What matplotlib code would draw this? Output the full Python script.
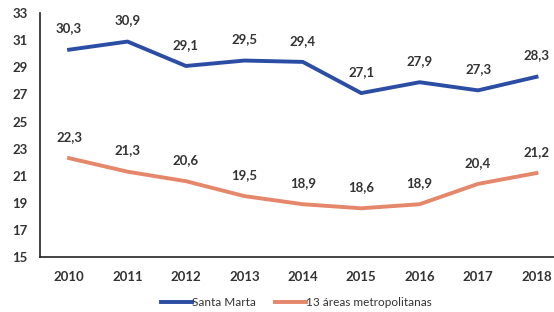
import matplotlib
matplotlib.use("Agg")
import matplotlib.pyplot as plt

plt.rcParams["font.family"] = ["Lato", "DejaVu Sans"]

years = [2010, 2011, 2012, 2013, 2014, 2015, 2016, 2017, 2018]
santa_marta = [30.3, 30.9, 29.1, 29.5, 29.4, 27.1, 27.9, 27.3, 28.3]
areas_13 = [22.3, 21.3, 20.6, 19.5, 18.9, 18.6, 18.9, 20.4, 21.2]
y_ticks = [15, 17, 19, 21, 23, 25, 27, 29, 31, 33]

blue = "#2B4DA3"
orange = "#E4876A"
text_color = "#333333"

fig = plt.figure(figsize=(5.54, 3.12), dpi=100)
ax = fig.add_axes([0.072, 0.176, 0.928, 0.782])

ax.plot(years, santa_marta, color=blue, lw=2.8, solid_joinstyle="round",
        label="Santa Marta")
ax.plot(years, areas_13, color=orange, lw=2.8, solid_joinstyle="round",
        label="13 áreas metropolitanas")

for series in (santa_marta, areas_13):
    for x, v in zip(years, series):
        ax.annotate(f"{v:.1f}".replace(".", ","), (x, v), xytext=(0, 11),
                    textcoords="offset points", ha="center", va="bottom",
                    fontsize=9.5, fontweight="bold", color=text_color)

ax.set_xlim(2009.5, 2018.3)
ax.set_ylim(15, 33)
ax.set_yticks(y_ticks)
ax.set_xticks(years)
ax.tick_params(length=0, labelsize=9.5, colors=text_color)
ax.tick_params(axis="y", pad=9)
ax.tick_params(axis="x", pad=10)
for lbl in ax.get_xticklabels() + ax.get_yticklabels():
    lbl.set_fontweight("bold")

ax.spines["top"].set_visible(False)
ax.spines["right"].set_visible(False)
for side in ("left", "bottom"):
    ax.spines[side].set_color("#222222")
    ax.spines[side].set_linewidth(1.2)

fig.legend(*ax.get_legend_handles_labels(), loc="center",
           bbox_to_anchor=(0.535, 0.03), ncol=2, frameon=False,
           fontsize=8.5, handlelength=2.6, handletextpad=0.05,
           columnspacing=1.6, labelcolor=text_color)

fig.savefig("out.png", dpi=100)
